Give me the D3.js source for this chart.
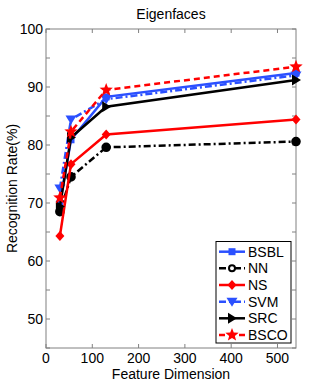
<!DOCTYPE html>
<html><head><meta charset="utf-8">
<script src="https://cdn.jsdelivr.net/npm/d3@7/dist/d3.min.js"></script>
<style>body{margin:0;background:#fff}svg{display:block;font-family:"Liberation Sans",Arial,sans-serif}</style>
</head><body><svg id="c" width="327" height="392"></svg>
<script>
const dims = [30, 54, 130, 540];
const seriesNames = ["BSBL", "NN", "NS", "SVM", "SRC", "BSCO"];
const bsbl = [69.9, 80.9, 88.3, 92.4];
const nn = [68.5, 74.5, 79.6, 80.6];
const ns = [64.3, 76.7, 81.8, 84.4];
const svm = [72.5, 84.4, 87.9, 92.0];
const src = [69.4, 81.3, 86.6, 91.2];
const bsco = [70.9, 82.3, 89.5, 93.5];
const xTicks = [0, 100, 200, 300, 400, 500];
const yTicks = [50, 60, 70, 80, 90, 100];
const yMinor = [45, 50, 55, 60, 65, 70, 75, 80, 85, 90, 95, 100];

const svg = d3.select("#c");
const L = 46, R = 296, T = 29, B = 348;
const x = d3.scaleLinear().domain([0, 540]).range([L, R]);
const y = d3.scaleLinear().domain([45, 100]).range([B, T]);
const gray = "#808080";
const blue = "#2b50ff", red = "#ff0000", black = "#000";

const styles = {
  BSBL: {data: bsbl, color: blue, dash: null, marker: "square"},
  NN: {data: nn, color: black, dash: "7,3,2,3", marker: "circle"},
  NS: {data: ns, color: red, dash: null, marker: "diamond"},
  SVM: {data: svm, color: blue, dash: "7,3,2,3", marker: "tridown"},
  SRC: {data: src, color: black, dash: null, marker: "triright"},
  BSCO: {data: bsco, color: red, dash: "6,4", marker: "star"}
};

function drawMarker(g, type, cx, cy, color, legend) {
  if (type === "square") {
    g.append("rect").attr("x", cx - 3.5).attr("y", cy - 3.5).attr("width", 7).attr("height", 7).attr("fill", color);
  } else if (type === "circle") {
    g.append("circle").attr("cx", cx).attr("cy", cy).attr("r", legend ? 3 : 3.8)
      .attr("fill", legend ? "#fff" : color).attr("stroke", color).attr("stroke-width", 2);
  } else if (type === "diamond") {
    g.append("path").attr("d", `M${cx},${cy-5}L${cx+4.5},${cy}L${cx},${cy+5}L${cx-4.5},${cy}Z`).attr("fill", color);
  } else if (type === "tridown") {
    g.append("path").attr("d", `M${cx-5.5},${cy-4}L${cx+5.5},${cy-4}L${cx},${cy+5}Z`).attr("fill", color);
  } else if (type === "triright") {
    g.append("path").attr("d", `M${cx-4},${cy-5.5}L${cx+5},${cy}L${cx-4},${cy+5.5}Z`).attr("fill", color);
  } else if (type === "star") {
    const pts = [];
    for (let i = 0; i < 10; i++) {
      const r = i % 2 === 0 ? 7 : 3;
      const a = -Math.PI / 2 + i * Math.PI / 5;
      pts.push([cx + r * Math.cos(a), cy + r * Math.sin(a)]);
    }
    g.append("path").attr("d", "M" + pts.map(p => p.join(",")).join("L") + "Z").attr("fill", color);
  }
}

// axes box
const ax = svg.append("g");
ax.append("rect").attr("x", L).attr("y", T).attr("width", R - L).attr("height", B - T)
  .attr("fill", "none").attr("stroke", gray).attr("stroke-width", 1);
xTicks.forEach(t => {
  ax.append("line").attr("x1", x(t)).attr("x2", x(t)).attr("y1", B).attr("y2", B - 4).attr("stroke", gray);
  ax.append("line").attr("x1", x(t)).attr("x2", x(t)).attr("y1", T).attr("y2", T + 4).attr("stroke", gray);
  ax.append("text").attr("x", x(t)).attr("y", 363).attr("text-anchor", "middle").attr("font-size", 14).text(t);
});
yMinor.forEach(t => {
  ax.append("line").attr("x1", L).attr("x2", L + 4).attr("y1", y(t)).attr("y2", y(t)).attr("stroke", gray);
  ax.append("line").attr("x1", R).attr("x2", R - 4).attr("y1", y(t)).attr("y2", y(t)).attr("stroke", gray);
});
yTicks.forEach(t => {
  ax.append("text").attr("x", L - 3).attr("y", y(t) + 5).attr("text-anchor", "end").attr("font-size", 14).text(t);
});
svg.append("text").attr("x", (L + R) / 2).attr("y", 19).attr("text-anchor", "middle").attr("font-size", 14).text("Eigenfaces");
svg.append("text").attr("x", (L + R) / 2).attr("y", 379).attr("text-anchor", "middle").attr("font-size", 14).text("Feature Dimension");
svg.append("text").attr("transform", `translate(17,${(T + B) / 2}) rotate(-90)`).attr("text-anchor", "middle").attr("font-size", 14).text("Recognition Rate(%)");

const line = d3.line().x((d, i) => x(dims[i])).y(d => y(d));
seriesNames.forEach(n => {
  const s = styles[n];
  const g = svg.append("g");
  g.append("path").attr("d", line(s.data)).attr("fill", "none").attr("stroke", s.color)
    .attr("stroke-width", 2.5).attr("stroke-dasharray", s.dash);
  s.data.forEach((v, i) => drawMarker(g, s.marker, x(dims[i]), y(v), s.color, false));
});

// legend
const lg = svg.append("g");
lg.append("rect").attr("x", 216).attr("y", 241.5).attr("width", 75).attr("height", 101.5)
  .attr("fill", "#fff").attr("stroke", "#000").attr("stroke-width", 1);
seriesNames.forEach((n, i) => {
  const s = styles[n];
  const yy = 251.7 + i * 16.65;
  lg.append("line").attr("x1", 219).attr("x2", 245).attr("y1", yy).attr("y2", yy)
    .attr("stroke", s.color).attr("stroke-width", 2.5).attr("stroke-dasharray", s.dash);
  drawMarker(lg, s.marker, 232, yy, s.color, true);
  lg.append("text").attr("x", 248).attr("y", yy + 5).attr("font-size", 14).text(n);
});
</script></body></html>
